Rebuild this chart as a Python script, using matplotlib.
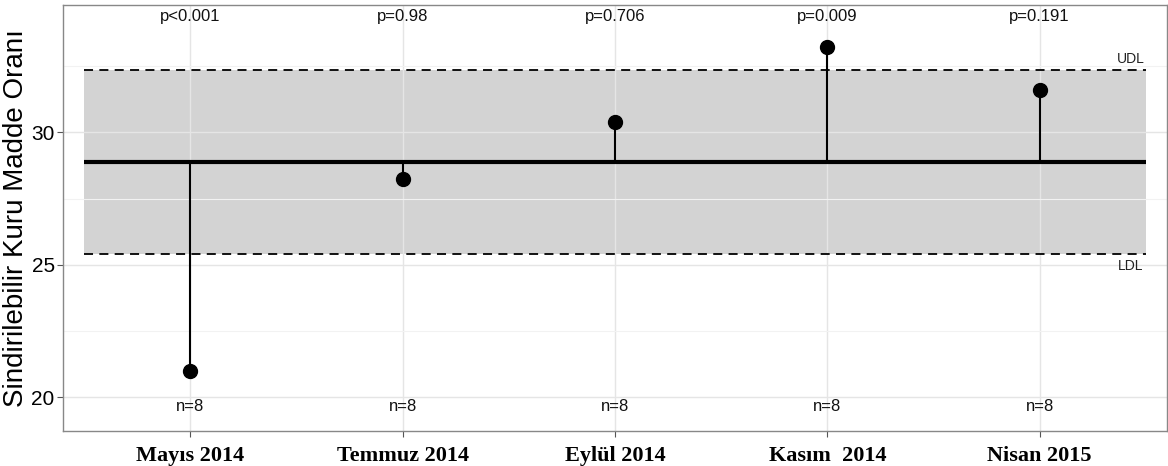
import matplotlib
matplotlib.use("Agg")
import matplotlib.pyplot as plt
from matplotlib.ticker import MultipleLocator

categories = ["Mayıs 2014", "Temmuz 2014", "Eylül 2014", "Kasım  2014", "Nisan 2015"]
means = [21.0, 28.22, 30.40, 33.23, 31.58]
p_labels = ["p<0.001", "p=0.98", "p=0.706", "p=0.009", "p=0.191"]
n_labels = ["n=8", "n=8", "n=8", "n=8", "n=8"]
center = 28.88
udl = 32.35
ldl = 25.41
ylabel = "Sindirilebilir Kuru Madde Oranı"

fig = plt.figure(figsize=(11.68, 4.66), dpi=100)
ax = fig.add_axes([63/1168, 35/466, (1167-63)/1168, (431-5)/466])

x = list(range(1, len(categories) + 1))
ax.set_xlim(0.4, len(categories) + 0.6)
ax.set_ylim(18.73, 34.80)

# grid
ax.yaxis.set_major_locator(MultipleLocator(5))
ax.yaxis.set_minor_locator(MultipleLocator(2.5))
ax.set_xticks(x)
ax.grid(which="major", color="#e5e5e5", linewidth=1.0, zorder=0)
ax.grid(which="minor", axis="y", color="#f2f2f2", linewidth=0.8, zorder=0)

# decision band
ax.fill_between([0.5, len(categories) + 0.5], ldl, udl, color="#d3d3d3", zorder=1, linewidth=0)
ax.hlines([udl, ldl], 0.5, len(categories) + 0.5, colors="black", linestyles=(0, (5, 3.5)), linewidth=1.3, zorder=2)
ax.hlines(center, 0.5, len(categories) + 0.5, colors="black", linewidth=3, zorder=3)

# stems and points
ax.vlines(x, center, means, colors="black", linewidth=1.5, zorder=3)
ax.plot(x, means, "o", color="black", markersize=10, zorder=4)

for xi, p, n in zip(x, p_labels, n_labels):
    ax.text(xi, 34.36, p, ha="center", va="center", fontsize=12, family="Liberation Sans", color="#111111")
    ax.text(xi, 19.65, n, ha="center", va="center", fontsize=12, family="Liberation Sans", color="#111111")

ax.text(len(categories) + 0.43, udl + 0.42, "UDL", ha="center", va="center", fontsize=10, family="Liberation Sans", color="#222222")
ax.text(len(categories) + 0.43, ldl - 0.45, "LDL", ha="center", va="center", fontsize=10, family="Liberation Sans", color="#222222")

ax.set_xticklabels(categories, family="Liberation Serif", fontweight="bold", fontsize=16)
for lbl in ax.get_yticklabels():
    lbl.set_family("Liberation Sans")
    lbl.set_fontsize(15)
ax.tick_params(axis="both", which="major", length=4, color="#555555", labelcolor="black")
ax.tick_params(axis="y", which="minor", length=0)
ax.tick_params(axis="x", pad=7)
ax.tick_params(axis="y", pad=2)

ax.set_ylabel(ylabel, family="Liberation Sans", fontsize=20, labelpad=2)

for s in ax.spines.values():
    s.set_color("#888888")
    s.set_linewidth(1.0)

fig.savefig("out.png", dpi=100)
